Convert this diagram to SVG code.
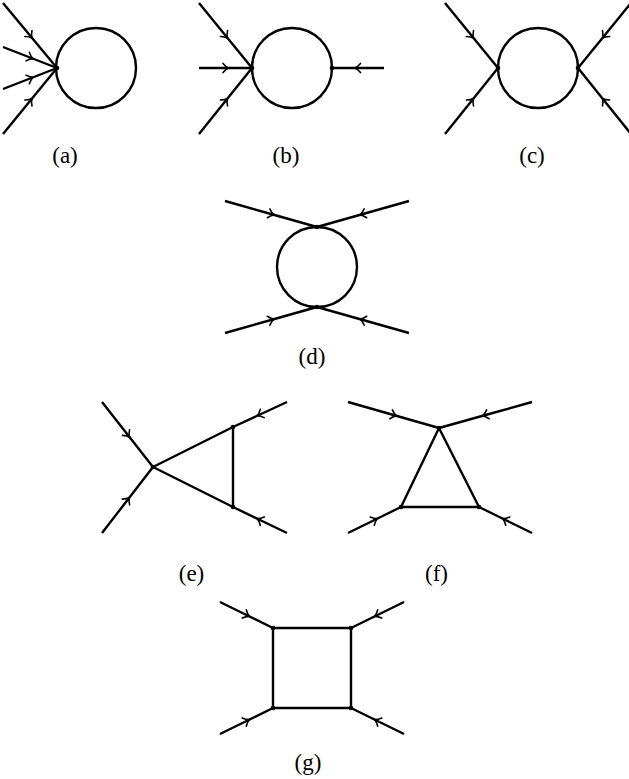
<svg xmlns="http://www.w3.org/2000/svg" width="629" height="779" viewBox="0 0 629 779">
<style>
.ln{fill:none;stroke:#000;stroke-width:2.4;stroke-linecap:butt;stroke-linejoin:round}
.ext{fill:none;stroke:#000;stroke-width:2.4;marker-mid:url(#arr)}
.dot{fill:#000}
.lbl{font-family:"Liberation Serif","DejaVu Serif",serif;font-size:23px;text-anchor:middle;fill:#000}
</style>
<defs>
<marker id="arr" markerUnits="userSpaceOnUse" orient="auto" markerWidth="20" markerHeight="20" viewBox="-10 -10 20 20" refX="0" refY="0" overflow="visible">
<path d="M -2.5,-4.6 Q 0.5,-1 3.2,0 Q 0.5,1 -2.5,4.6" fill="none" stroke="#000" stroke-width="1.6" stroke-linecap="round"/>
</marker>
</defs>
<rect width="629" height="779" fill="#fff"/>

<g id="diagram-a">
<g id="connectors-a">
<circle class="ln" cx="96" cy="68" r="40"/>
<path class="ext" d="M3,3 L30,35.5 L57,68"/>
<path class="ext" d="M3,47 L30,57.5 L57,68"/>
<path class="ext" d="M3,89 L30,78.5 L57,68"/>
<path class="ext" d="M3,134 L30,101 L57,68"/>
</g>
<g id="a-v1"><circle class="dot" cx="57" cy="68" r="2.3"/></g>
<text class="lbl" x="65" y="163">(a)</text>
</g>

<g id="diagram-b">
<g id="connectors-b">
<circle class="ln" cx="292" cy="68" r="40"/>
<path class="ext" d="M199,3 L225.5,35.5 L252,68"/>
<path class="ext" d="M199,68 L225.5,68 L252,68"/>
<path class="ext" d="M199,134 L225.5,101 L252,68"/>
<path class="ext" d="M384,68 L358,68 L332,68"/>
</g>
<g id="b-v1"><circle class="dot" cx="252" cy="68" r="2.3"/></g>
<g id="b-v2"><circle class="dot" cx="332" cy="68" r="2.3"/></g>
<text class="lbl" x="286" y="163">(b)</text>
</g>

<g id="diagram-c">
<g id="connectors-c">
<circle class="ln" cx="538" cy="68" r="40"/>
<path class="ext" d="M445,3 L471.5,35.5 L498,68"/>
<path class="ext" d="M445,134 L471.5,101 L498,68"/>
<path class="ext" d="M631,3 L604.5,35.5 L578,68"/>
<path class="ext" d="M631,134 L604.5,101 L578,68"/>
</g>
<g id="c-v1"><circle class="dot" cx="498" cy="68" r="2.3"/></g>
<g id="c-v2"><circle class="dot" cx="578" cy="68" r="2.3"/></g>
<text class="lbl" x="532" y="163">(c)</text>
</g>

<g id="diagram-d">
<g id="connectors-d">
<circle class="ln" cx="317" cy="267" r="40"/>
<path class="ext" d="M225,201 L271,214 L317,227"/>
<path class="ext" d="M409,201 L363,214 L317,227"/>
<path class="ext" d="M225,333 L271,320 L317,307"/>
<path class="ext" d="M409,333 L363,320 L317,307"/>
</g>
<g id="d-v1"><circle class="dot" cx="317" cy="227" r="2.3"/></g>
<g id="d-v2"><circle class="dot" cx="317" cy="307" r="2.3"/></g>
<text class="lbl" x="312" y="364">(d)</text>
</g>

<g id="diagram-e">
<g id="connectors-e">
<path class="ln" d="M153,467 L233,427 L233,507 Z"/>
<path class="ext" d="M102,402 L127.5,434.5 L153,467"/>
<path class="ext" d="M102,533 L127.5,500 L153,467"/>
<path class="ext" d="M287,402 L260,414.5 L233,427"/>
<path class="ext" d="M287,533 L260,520 L233,507"/>
</g>
<g id="e-v1"><circle class="dot" cx="153" cy="467" r="2.3"/></g>
<g id="e-v2"><circle class="dot" cx="233" cy="427" r="2.3"/></g>
<g id="e-v3"><circle class="dot" cx="233" cy="507" r="2.3"/></g>
<text class="lbl" x="191.5" y="581">(e)</text>
</g>

<g id="diagram-f">
<g id="connectors-f">
<path class="ln" d="M439,428 L479,507 L401,507 Z"/>
<path class="ext" d="M348,402 L393.5,415 L439,428"/>
<path class="ext" d="M532,402 L485.5,415 L439,428"/>
<path class="ext" d="M348,533 L374.5,520 L401,507"/>
<path class="ext" d="M532,533 L505.5,520 L479,507"/>
</g>
<g id="f-v1"><circle class="dot" cx="439" cy="428" r="2.3"/></g>
<g id="f-v2"><circle class="dot" cx="401" cy="507" r="2.3"/></g>
<g id="f-v3"><circle class="dot" cx="479" cy="507" r="2.3"/></g>
<text class="lbl" x="436.5" y="581">(f)</text>
</g>

<g id="diagram-g">
<g id="connectors-g">
<path class="ln" d="M273,628 L351,628 L351,708 L273,708 Z"/>
<path class="ext" d="M220,602 L246.5,615 L273,628"/>
<path class="ext" d="M404,602 L377.5,615 L351,628"/>
<path class="ext" d="M220,734 L246.5,721 L273,708"/>
<path class="ext" d="M404,734 L377.5,721 L351,708"/>
</g>
<g id="g-v1"><circle class="dot" cx="273" cy="628" r="2.3"/></g>
<g id="g-v2"><circle class="dot" cx="351" cy="628" r="2.3"/></g>
<g id="g-v3"><circle class="dot" cx="273" cy="708" r="2.3"/></g>
<g id="g-v4"><circle class="dot" cx="351" cy="708" r="2.3"/></g>
<text class="lbl" x="308" y="770">(g)</text>
</g>
</svg>
